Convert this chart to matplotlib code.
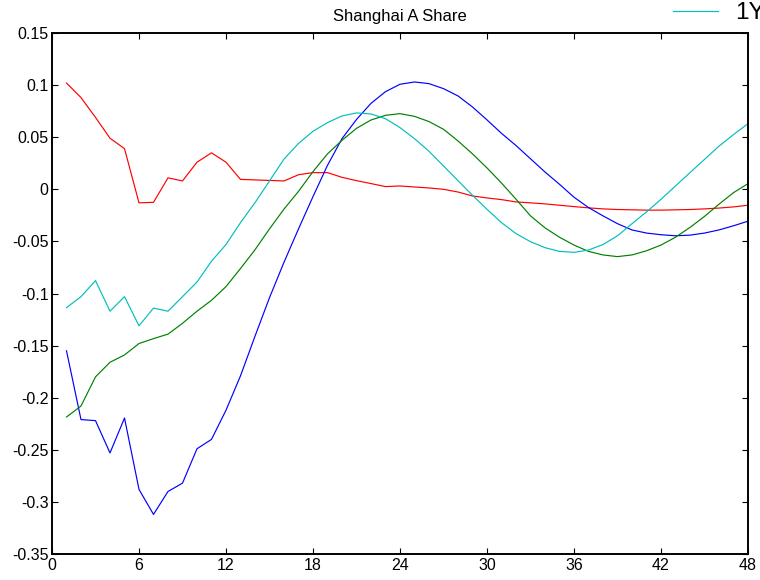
import numpy as np
from matplotlib import pyplot as plt

plt.rcParams['font.family'] = ['Liberation Sans', 'DejaVu Sans']

months = np.arange(1, 49)

red_vals = [0.102, 0.088, 0.069, 0.049, 0.039, -0.013, -0.0125, 0.011, 0.008, 0.026,
            0.035, 0.026, 0.0095, 0.009, 0.0085, 0.008, 0.014, 0.016, 0.016, 0.0115,
            0.0083, 0.0055, 0.0026, 0.0032, 0.0022, 0.0013, 0.0, -0.0026, -0.0064, -0.0083,
            -0.0099, -0.0121, -0.013, -0.014, -0.0153, -0.0166, -0.0178, -0.0188, -0.0194, -0.0197,
            -0.020, -0.020, -0.0197, -0.0194, -0.0188, -0.018, -0.0169, -0.0153]

cyan_vals = [-0.1136, -0.103, -0.0876, -0.117, -0.103, -0.131, -0.114, -0.117, -0.103, -0.089,
             -0.069, -0.053, -0.032, -0.0128, 0.008, 0.029, 0.044, 0.0557, 0.064, 0.0704,
             0.0733, 0.0723, 0.0678, 0.0592, 0.0486, 0.0365, 0.0224, 0.0083, -0.0058, -0.0192,
             -0.032, -0.0425, -0.0503, -0.056, -0.0596, -0.0605, -0.0583, -0.053, -0.0446, -0.033,
             -0.0217, -0.0096, 0.0032, 0.016, 0.0287, 0.0414, 0.0525, 0.063]

green_vals = [-0.2185, -0.208, -0.18, -0.166, -0.159, -0.148, -0.1433, -0.139, -0.1286, -0.117,
              -0.1065, -0.0934, -0.076, -0.058, -0.038, -0.019, -0.002, 0.017, 0.034, 0.047,
              0.0585, 0.0665, 0.071, 0.0726, 0.070, 0.065, 0.0576, 0.0464, 0.034, 0.0205,
              0.006, -0.0095, -0.0255, -0.037, -0.046, -0.0535, -0.0596, -0.063, -0.0646, -0.063,
              -0.059, -0.0535, -0.046, -0.0366, -0.026, -0.0143, -0.0032, 0.0054]

blue_vals = [-0.155, -0.221, -0.222, -0.253, -0.2195, -0.288, -0.312, -0.290, -0.282, -0.249,
             -0.240, -0.212, -0.179, -0.141, -0.104, -0.070, -0.038, -0.007, 0.023, 0.0486,
             0.067, 0.0825, 0.0937, 0.1008, 0.103, 0.1014, 0.0966, 0.0896, 0.079, 0.0666,
             0.0537, 0.042, 0.0293, 0.0166, 0.0048, -0.0076, -0.0175, -0.0255, -0.033, -0.039,
             -0.042, -0.0436, -0.0446, -0.044, -0.042, -0.039, -0.035, -0.0306]

x_ticks = [0, 6, 12, 18, 24, 30, 36, 42, 48]
y_ticks = [0.15, 0.1, 0.05, 0, -0.05, -0.1, -0.15, -0.2, -0.25, -0.3, -0.35]
y_tick_labels = ['0.15', '0.1', '0.05', '0', '-0.05', '-0.1', '-0.15', '-0.2', '-0.25', '-0.3', '-0.35']

fig = plt.figure(figsize=(7.6, 5.8), dpi=100)
ax = fig.add_axes([52 / 760, 1 - 554 / 580, 696 / 760, 521 / 580])

lw = 0.85
ax.plot(months, red_vals, color='#ff0000', lw=lw)
ax.plot(months, blue_vals, color='#0000ff', lw=lw)
ax.plot(months, green_vals, color='#008000', lw=lw)
cyan_line, = ax.plot(months, cyan_vals, color='#00bfbf', lw=lw)

ax.set_xlim(0, 48)
ax.set_ylim(-0.35, 0.15)
ax.set_xticks(x_ticks)
ax.set_xticklabels([str(t) for t in x_ticks])
ax.set_yticks(y_ticks)
ax.set_yticklabels(y_tick_labels)
ax.tick_params(direction='in', top=True, right=True, length=4, width=0.8,
               labelsize=11.5, pad=3)
ax.tick_params(axis='y', pad=2.5)
for sp in ax.spines.values():
    sp.set_linewidth(1.4)

ax.set_title('Shanghai A Share', fontsize=12, pad=8.5)

# legend box sits mostly off the figure, only the 1Y row shows
fig.legend([cyan_line], ['1Y'], loc='center left',
           bbox_to_anchor=(673 / 760, 1 - 13 / 580), frameon=False,
           fontsize=17.5, borderpad=0, borderaxespad=0,
           handlelength=1.85, handletextpad=0.7)

fig.savefig('out.png', dpi=100)
